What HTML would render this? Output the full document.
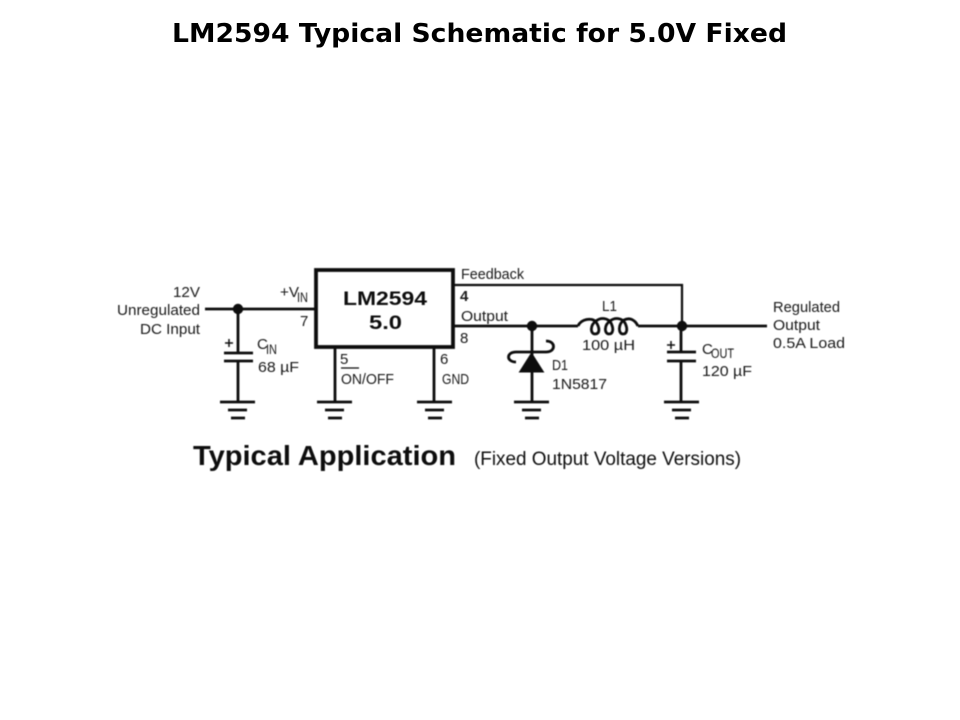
<!DOCTYPE html>
<html lang="en">
<head>
<meta charset="utf-8">
<title>LM2594 Typical Schematic for 5.0V Fixed</title>
<style>
html,body{margin:0;padding:0;background:#fff;width:960px;height:720px;overflow:hidden}
svg{display:block}
text{font-family:"Liberation Sans",sans-serif;fill:#1a1a1a}
.t{font-size:15px}
.s{font-size:14px}
.ln{stroke:#111;fill:none;stroke-width:2.8}
.th{stroke:#111;fill:none;stroke-width:2.2}
</style>
</head>
<body>
<svg width="960" height="720" viewBox="0 0 960 720" xmlns="http://www.w3.org/2000/svg">
<defs>
<filter id="b" x="-5%" y="-5%" width="110%" height="110%"><feGaussianBlur stdDeviation="0.4"/></filter>
</defs>
<text x="172" y="42" textLength="615" lengthAdjust="spacingAndGlyphs" style="font-family:'DejaVu Sans',sans-serif;font-weight:bold;font-size:26px;fill:#000">LM2594 Typical Schematic for 5.0V Fixed</text>

<g filter="url(#b)">
<!-- IC -->
<rect x="316" y="270" width="137" height="77" fill="none" stroke="#111" stroke-width="3.8"/>
<!-- wires -->
<path class="ln" d="M205 309H316"/>
<path class="th" d="M453 285H682V326"/>
<path class="ln" d="M453 326H578M638 326H767"/>
<path class="ln" d="M238 309V353M238 361V402"/>
<path class="ln" d="M335 347V402M434 347V402"/>
<path class="ln" d="M532 326V402"/>
<path class="ln" d="M681 326V352M681 361V402"/>
<circle cx="238" cy="309" r="5.2" fill="#111"/>
<circle cx="532" cy="326" r="5.2" fill="#111"/>
<circle cx="682" cy="326" r="5.2" fill="#111"/>
<!-- capacitors -->
<path class="ln" d="M224 353H253M224 361H253M667 352H696M667 361H696"/>
<!-- grounds -->
<path class="ln" d="M220 402H255M228 410H247M231 418H245"/>
<path class="ln" d="M317 402H352M325 410H344M328 418H342"/>
<path class="ln" d="M417 402H452M425 410H444M428 418H442"/>
<path class="ln" d="M514 402H549M522 410H541M525 418H539"/>
<path class="ln" d="M664 402H699M672 410H691M675 418H689"/>
<!-- diode -->
<path d="M531.500 353L519.500 372H543.500Z" fill="#111" stroke="#111" stroke-width="1"/>
<path class="ln" d="M516 362C506 362 506 352 516 352H546C556 352 556 341 546 341"/>
<!-- inductor -->
<path class="ln" d="M578 326C581 319 592 317 596 322C600 328 600 334 595 334C590 334 590 325 596 321C601 317 608 318 611 323C614 329 613 334 609 334C604 334 604 325 610 321C615 317 622 318 625 323C628 329 627 334 623 334C618 334 618 324 624 320C630 317 635 320 638 326"/>

<!-- plus signs -->
<path class="th" stroke-width="1.5" style="stroke-width:1.5" d="M225 343H233M229 339V347M667 345H675M671 341V349"/>

<!-- IC labels -->
<text x="343" y="305" textLength="84" lengthAdjust="spacingAndGlyphs" style="font-weight:bold;font-size:19px;fill:#111">LM2594</text>
<text x="369" y="329" textLength="33" lengthAdjust="spacingAndGlyphs" style="font-weight:bold;font-size:19px;fill:#111">5.0</text>

<!-- left labels -->
<text class="t" x="173" y="297" textLength="27" lengthAdjust="spacingAndGlyphs">12V</text>
<text class="t" x="117" y="315" textLength="83" lengthAdjust="spacingAndGlyphs">Unregulated</text>
<text class="t" x="140" y="334" textLength="60" lengthAdjust="spacingAndGlyphs">DC Input</text>
<text class="t" x="280" y="297" textLength="19" lengthAdjust="spacingAndGlyphs">+V</text>
<text class="s" x="297" y="302" textLength="11" lengthAdjust="spacingAndGlyphs">IN</text>
<text class="t" x="300" y="326">7</text>
<text class="t" x="257" y="349">C</text>
<text class="s" x="266" y="354" textLength="11" lengthAdjust="spacingAndGlyphs">IN</text>
<text class="t" x="258" y="372" textLength="41" lengthAdjust="spacingAndGlyphs">68 µF</text>
<text class="t" x="340" y="364">5</text>
<path class="th" style="stroke-width:1.2" d="M341 368H359"/>
<text class="t" x="341" y="384" textLength="53" lengthAdjust="spacingAndGlyphs">ON/OFF</text>
<text class="t" x="440" y="364">6</text>
<text class="t" x="442" y="384" textLength="27" lengthAdjust="spacingAndGlyphs">GND</text>

<!-- right labels -->
<text class="t" x="461" y="279" textLength="63" lengthAdjust="spacingAndGlyphs">Feedback</text>
<text class="t" x="460" y="301" style="font-weight:bold">4</text>
<text class="t" x="461" y="321" textLength="47" lengthAdjust="spacingAndGlyphs">Output</text>
<text class="t" x="460" y="343">8</text>
<text class="t" x="602" y="311" textLength="15" lengthAdjust="spacingAndGlyphs">L1</text>
<text class="t" x="582" y="350" textLength="53" lengthAdjust="spacingAndGlyphs">100 µH</text>
<text class="t" x="552" y="370" textLength="16" lengthAdjust="spacingAndGlyphs">D1</text>
<text class="t" x="552" y="389" textLength="55" lengthAdjust="spacingAndGlyphs">1N5817</text>
<text class="t" x="702" y="354">C</text>
<text class="s" x="711" y="358" textLength="23" lengthAdjust="spacingAndGlyphs">OUT</text>
<text class="t" x="702" y="376" textLength="50" lengthAdjust="spacingAndGlyphs">120 µF</text>
<text class="t" x="773" y="312" textLength="67" lengthAdjust="spacingAndGlyphs">Regulated</text>
<text class="t" x="773" y="330" textLength="47" lengthAdjust="spacingAndGlyphs">Output</text>
<text class="t" x="773" y="348" textLength="72" lengthAdjust="spacingAndGlyphs">0.5A Load</text>

<!-- caption -->
<text x="193" y="465" textLength="263" lengthAdjust="spacingAndGlyphs" style="font-weight:bold;font-size:28px;fill:#111">Typical Application</text>
<text x="474" y="465" textLength="267" lengthAdjust="spacingAndGlyphs" style="font-size:19px;fill:#111">(Fixed Output Voltage Versions)</text>
</g>
</svg>
</body>
</html>
